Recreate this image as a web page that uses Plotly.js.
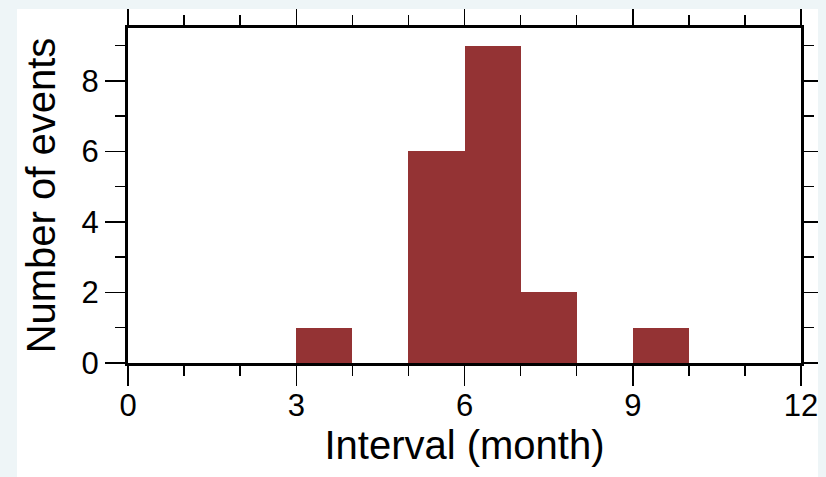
<!DOCTYPE html>
<html>
<head>
<meta charset="utf-8">
<script src="https://cdn.plot.ly/plotly-3.0.1.min.js"></script>
<style>
  html, body { margin: 0; padding: 0; width: 826px; height: 477px; background: #eef5f7; overflow: hidden; }
  #chart { position: absolute; left: 17px; top: 9px; width: 801px; height: 468px; background: #ffffff; }
</style>
</head>
<body>
<div id="chart"></div>
<script>
// Histogram of intervals between events: bins one month wide
const binStarts = [3, 5, 6, 7, 9];
const counts = [1, 6, 9, 2, 1];
const binWidth = 1;
const xTickVals = [0, 3, 6, 9, 12];
const yTickVals = [0, 2, 4, 6, 8];

const binCenters = binStarts.map(s => s + binWidth / 2);

const fontFamily = '"Liberation Sans", Arial, Helvetica, sans-serif';

const trace = {
  type: 'bar',
  x: binCenters,
  y: counts,
  width: binStarts.map(() => binWidth),
  marker: { color: '#943334', line: { width: 0 } },
  hoverinfo: 'x+y'
};

const axisCommon = {
  showline: true,
  linecolor: '#000000',
  linewidth: 3,
  mirror: 'allticks',
  ticks: 'outside',
  ticklen: 20,
  tickwidth: 1.5,
  tickcolor: '#000000',
  showgrid: false,
  zeroline: false,
  ticklabeloverflow: 'allow',
  tickfont: { family: fontFamily, size: 31, color: '#000000' },
  fixedrange: true
};

const layout = {
  width: 801,
  height: 468,
  margin: { l: 111, r: 17, t: 19, b: 114 },
  paper_bgcolor: '#ffffff',
  plot_bgcolor: '#ffffff',
  showlegend: false,
  bargap: 0,
  xaxis: Object.assign({}, axisCommon, {
    range: [0, 12],
    tickmode: 'array',
    tickvals: xTickVals,
    ticktext: xTickVals.map(String),
    ticklabelstandoff: -7,
    minor: { dtick: 1, ticks: 'outside', ticklen: 10, tickwidth: 1.5, tickcolor: '#000000' },
    title: { text: 'Interval (month)', font: { family: fontFamily, size: 40, color: '#000000' }, standoff: 8 }
  }),
  yaxis: Object.assign({}, axisCommon, {
    range: [0, 9.5],
    tickmode: 'array',
    tickvals: yTickVals,
    ticktext: yTickVals.map(String),
    minor: { dtick: 1, ticks: 'outside', ticklen: 10, tickwidth: 1.5, tickcolor: '#000000' },
    title: { text: 'Number of events', font: { family: fontFamily, size: 40, color: '#000000' }, standoff: 14 }
  })
};

Plotly.newPlot('chart', [trace], layout, { displayModeBar: false, staticPlot: true });
</script>
</body>
</html>
